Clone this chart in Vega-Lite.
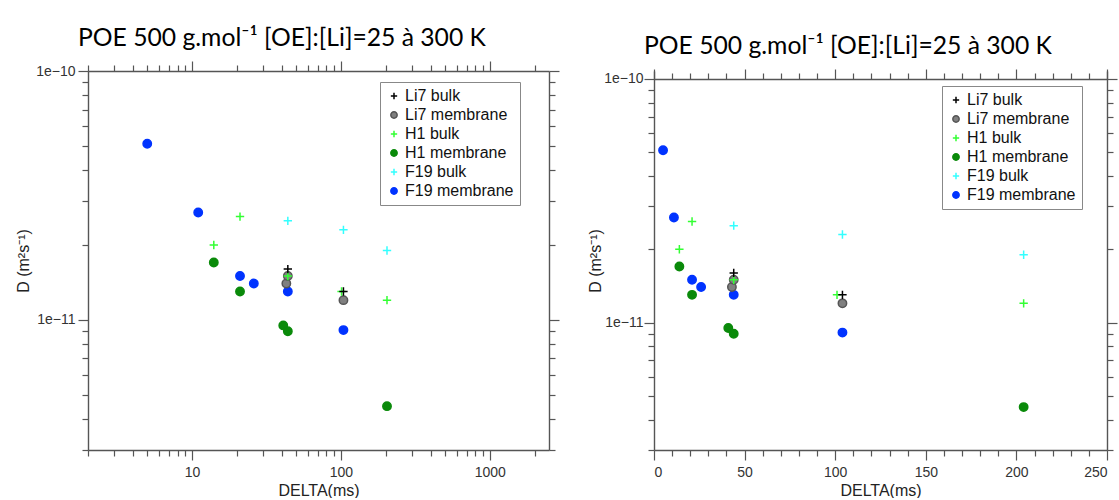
{
  "$schema": "https://vega.github.io/schema/vega-lite/v6.json",
  "padding": {"left": 15, "top": 25, "right": 0, "bottom": 0},
  "background": "white",
  "spacing": 27,
  "datasets": {
    "pts": [
      {"series": "F19 membrane", "delta": 5, "D": 5.1e-11},
      {"series": "F19 membrane", "delta": 11, "D": 2.7e-11},
      {"series": "F19 membrane", "delta": 21, "D": 1.5e-11},
      {"series": "F19 membrane", "delta": 26, "D": 1.4e-11},
      {"series": "F19 membrane", "delta": 44, "D": 1.3e-11},
      {"series": "F19 membrane", "delta": 104, "D": 9.1e-12},
      {"series": "H1 membrane", "delta": 14, "D": 1.7e-11},
      {"series": "H1 membrane", "delta": 21, "D": 1.3e-11},
      {"series": "H1 membrane", "delta": 41, "D": 9.5e-12},
      {"series": "H1 membrane", "delta": 44, "D": 9.0e-12},
      {"series": "H1 membrane", "delta": 204, "D": 4.5e-12},
      {"series": "Li7 membrane", "delta": 43, "D": 1.4e-11},
      {"series": "Li7 membrane", "delta": 44, "D": 1.5e-11},
      {"series": "Li7 membrane", "delta": 104, "D": 1.2e-11},
      {"series": "F19 bulk", "delta": 44, "D": 2.5e-11},
      {"series": "F19 bulk", "delta": 104, "D": 2.3e-11},
      {"series": "F19 bulk", "delta": 204, "D": 1.9e-11},
      {"series": "H1 bulk", "delta": 14, "D": 2.0e-11},
      {"series": "H1 bulk", "delta": 21, "D": 2.6e-11},
      {"series": "H1 bulk", "delta": 44, "D": 1.5e-11},
      {"series": "H1 bulk", "delta": 101, "D": 1.3e-11},
      {"series": "H1 bulk", "delta": 204, "D": 1.2e-11},
      {"series": "Li7 bulk", "delta": 44, "D": 1.6e-11},
      {"series": "Li7 bulk", "delta": 104, "D": 1.3e-11}
    ]
  },
  "config": {
    "view": {"stroke": null},
    "axis": {
      "grid": false,
      "domainColor": "#555555",
      "domainWidth": 1.4,
      "tickColor": "#555555",
      "tickWidth": 1.2,
      "labelFont": "Liberation Sans",
      "labelFontSize": 14,
      "labelColor": "#333333",
      "labelOverlap": false,
      "titleFont": "Liberation Sans",
      "titleFontSize": 16,
      "titleFontWeight": "normal",
      "titleColor": "#222222"
    },
    "legend": {
      "strokeColor": "#888888",
      "fillColor": "white",
      "padding": 6,
      "labelFont": "Liberation Sans",
      "labelFontSize": 16,
      "labelColor": "#111111",
      "rowPadding": 3,
      "labelOffset": 3,
      "symbolSize": 40,
      "symbolStrokeWidth": 1.5
    },
    "title": {"font": "Lato", "fontSize": 24.7, "fontWeight": "normal", "color": "#000000", "anchor": "start", "frame": "group"}
  },
  "hconcat": [
    {
      "title": {"text": "POE 500 g.mol⁻¹ [OE]:[Li]=25 à 300 K", "dx": -10, "offset": 10},
      "width": 461,
      "height": 379,
      "data": {"name": "pts"},
      "resolve": {"axis": {"x": "independent", "y": "independent"}},
      "layer": [
        {
          "mark": {"type": "point", "strokeWidth": 1.5, "opacity": 1},
          "encoding": {
            "x": {
              "field": "delta", "type": "quantitative",
              "scale": {"type": "log", "domain": [2, 2500], "nice": false},
              "axis": {
                "orient": "bottom", "title": "DELTA(ms)", "titlePadding": 3,
                "values": [2,3,4,5,6,7,8,9,10,20,30,40,50,60,70,80,90,100,200,300,400,500,600,700,800,900,1000,2000],
                "labelExpr": "datum.value == 10 ? '10' : datum.value == 100 ? '100' : datum.value == 1000 ? '1000' : ''",
                "tickSize": {"condition": {"test": "datum.value == 10 || datum.value == 100 || datum.value == 1000", "value": 10}, "value": 6},
                "labelPadding": 5
              }
            },
            "y": {
              "field": "D", "type": "quantitative",
              "scale": {"type": "log", "domain": [3e-12, 1e-10], "nice": false},
              "axis": {
                "orient": "left", "title": "D (m²s⁻¹)", "titlePadding": 4,
                "values": [3e-12,4e-12,5e-12,6e-12,7e-12,8e-12,9e-12,1e-11,2e-11,3e-11,4e-11,5e-11,6e-11,7e-11,8e-11,9e-11,1e-10],
                "labelExpr": "datum.value == 1e-10 ? '1e−10' : datum.value == 1e-11 ? '1e−11' : ''",
                "tickSize": {"condition": {"test": "datum.value == 1e-10 || datum.value == 1e-11", "value": 10}, "value": 6},
                "labelPadding": 3
              }
            },
            "fill": {
              "field": "series", "type": "nominal",
              "scale": {"domain": ["Li7 bulk","Li7 membrane","H1 bulk","H1 membrane","F19 bulk","F19 membrane"],
                        "range": ["#000000","#808080","#33ff33","#0a8a0a","#33ffff","#0033ff"]},
              "legend": {"title": null, "orient": "none", "legendX": 292, "legendY": 11}
            },
            "stroke": {
              "field": "series", "type": "nominal",
              "scale": {"domain": ["Li7 bulk","Li7 membrane","H1 bulk","H1 membrane","F19 bulk","F19 membrane"],
                        "range": ["#000000","#555555","#33ff33","#0a8a0a","#33ffff","#0033ff"]},
              "legend": {"title": null, "orient": "none", "legendX": 292, "legendY": 11}
            },
            "shape": {
              "field": "series", "type": "nominal",
              "scale": {"domain": ["Li7 bulk","Li7 membrane","H1 bulk","H1 membrane","F19 bulk","F19 membrane"],
                        "range": ["M-1,0H1M0,-1V1","circle","M-1,0H1M0,-1V1","circle","M-1,0H1M0,-1V1","circle"]},
              "legend": {"title": null, "orient": "none", "legendX": 292, "legendY": 11}
            },
            "size": {"value": 70}
          }
        },
        {
          "mark": {"type": "point", "opacity": 0},
          "encoding": {
            "x": {
              "field": "delta", "type": "quantitative",
              "axis": {
                "orient": "top", "title": null, "labels": false,
                "values": [2,3,4,5,6,7,8,9,10,20,30,40,50,60,70,80,90,100,200,300,400,500,600,700,800,900,1000,2000],
                "tickSize": {"condition": {"test": "datum.value == 10 || datum.value == 100 || datum.value == 1000", "value": 10}, "value": 6}
              }
            },
            "y": {
              "field": "D", "type": "quantitative",
              "axis": {
                "orient": "right", "title": null, "labels": false,
                "values": [3e-12,4e-12,5e-12,6e-12,7e-12,8e-12,9e-12,1e-11,2e-11,3e-11,4e-11,5e-11,6e-11,7e-11,8e-11,9e-11,1e-10],
                "tickSize": {"condition": {"test": "datum.value == 1e-10 || datum.value == 1e-11", "value": 10}, "value": 6}
              }
            }
          }
        }
      ]
    },
    {
      "title": {"text": "POE 500 g.mol⁻¹ [OE]:[Li]=25 à 300 K", "dx": -10, "offset": 10},
      "width": 453,
      "height": 379,
      "data": {"name": "pts"},
      "resolve": {"axis": {"x": "independent", "y": "independent"}},
      "layer": [
        {
          "mark": {"type": "point", "strokeWidth": 1.5, "opacity": 1},
          "encoding": {
            "x": {
              "field": "delta", "type": "quantitative",
              "scale": {"type": "linear", "domain": [0, 250], "nice": false, "zero": false},
              "axis": {
                "orient": "bottom", "title": "DELTA(ms)", "titlePadding": 3,
                "values": [0,10,20,30,40,50,60,70,80,90,100,110,120,130,140,150,160,170,180,190,200,210,220,230,240,250],
                "labelExpr": "datum.value % 50 == 0 ? datum.label : ''",
                "tickSize": {"condition": {"test": "datum.value % 50 == 0", "value": 10}, "value": 6},
                "labelPadding": 5
              }
            },
            "y": {
              "field": "D", "type": "quantitative",
              "scale": {"type": "log", "domain": [3e-12, 1.0785e-10], "nice": false},
              "axis": {
                "orient": "left", "title": "D (m²s⁻¹)", "titlePadding": 0,
                "values": [3e-12,4e-12,5e-12,6e-12,7e-12,8e-12,9e-12,1e-11,2e-11,3e-11,4e-11,5e-11,6e-11,7e-11,8e-11,9e-11,1e-10],
                "labelExpr": "datum.value == 1e-10 ? '1e−10' : datum.value == 1e-11 ? '1e−11' : ''",
                "tickSize": {"condition": {"test": "datum.value == 1e-10 || datum.value == 1e-11", "value": 10}, "value": 6},
                "labelPadding": 1
              }
            },
            "fill": {
              "field": "series", "type": "nominal",
              "scale": {"domain": ["Li7 bulk","Li7 membrane","H1 bulk","H1 membrane","F19 bulk","F19 membrane"],
                        "range": ["#000000","#808080","#33ff33","#0a8a0a","#33ffff","#0033ff"]},
              "legend": {"title": null, "orient": "none", "legendX": 288, "legendY": 15}
            },
            "stroke": {
              "field": "series", "type": "nominal",
              "scale": {"domain": ["Li7 bulk","Li7 membrane","H1 bulk","H1 membrane","F19 bulk","F19 membrane"],
                        "range": ["#000000","#555555","#33ff33","#0a8a0a","#33ffff","#0033ff"]},
              "legend": {"title": null, "orient": "none", "legendX": 288, "legendY": 15}
            },
            "shape": {
              "field": "series", "type": "nominal",
              "scale": {"domain": ["Li7 bulk","Li7 membrane","H1 bulk","H1 membrane","F19 bulk","F19 membrane"],
                        "range": ["M-1,0H1M0,-1V1","circle","M-1,0H1M0,-1V1","circle","M-1,0H1M0,-1V1","circle"]},
              "legend": {"title": null, "orient": "none", "legendX": 288, "legendY": 15}
            },
            "size": {"value": 70}
          }
        },
        {
          "mark": {"type": "point", "opacity": 0},
          "encoding": {
            "x": {
              "field": "delta", "type": "quantitative",
              "axis": {
                "orient": "top", "title": null, "labels": false, "offset": -8,
                "values": [0,10,20,30,40,50,60,70,80,90,100,110,120,130,140,150,160,170,180,190,200,210,220,230,240,250],
                "tickSize": {"condition": {"test": "datum.value % 50 == 0", "value": 10}, "value": 6}
              }
            },
            "y": {
              "field": "D", "type": "quantitative",
              "axis": {
                "orient": "right", "title": null, "labels": false,
                "values": [3e-12,4e-12,5e-12,6e-12,7e-12,8e-12,9e-12,1e-11,2e-11,3e-11,4e-11,5e-11,6e-11,7e-11,8e-11,9e-11,1e-10],
                "tickSize": {"condition": {"test": "datum.value == 1e-10 || datum.value == 1e-11", "value": 10}, "value": 6}
              }
            }
          }
        }
      ]
    }
  ],
  "resolve": {"scale": {"fill": "independent", "stroke": "independent", "shape": "independent"}}
}
